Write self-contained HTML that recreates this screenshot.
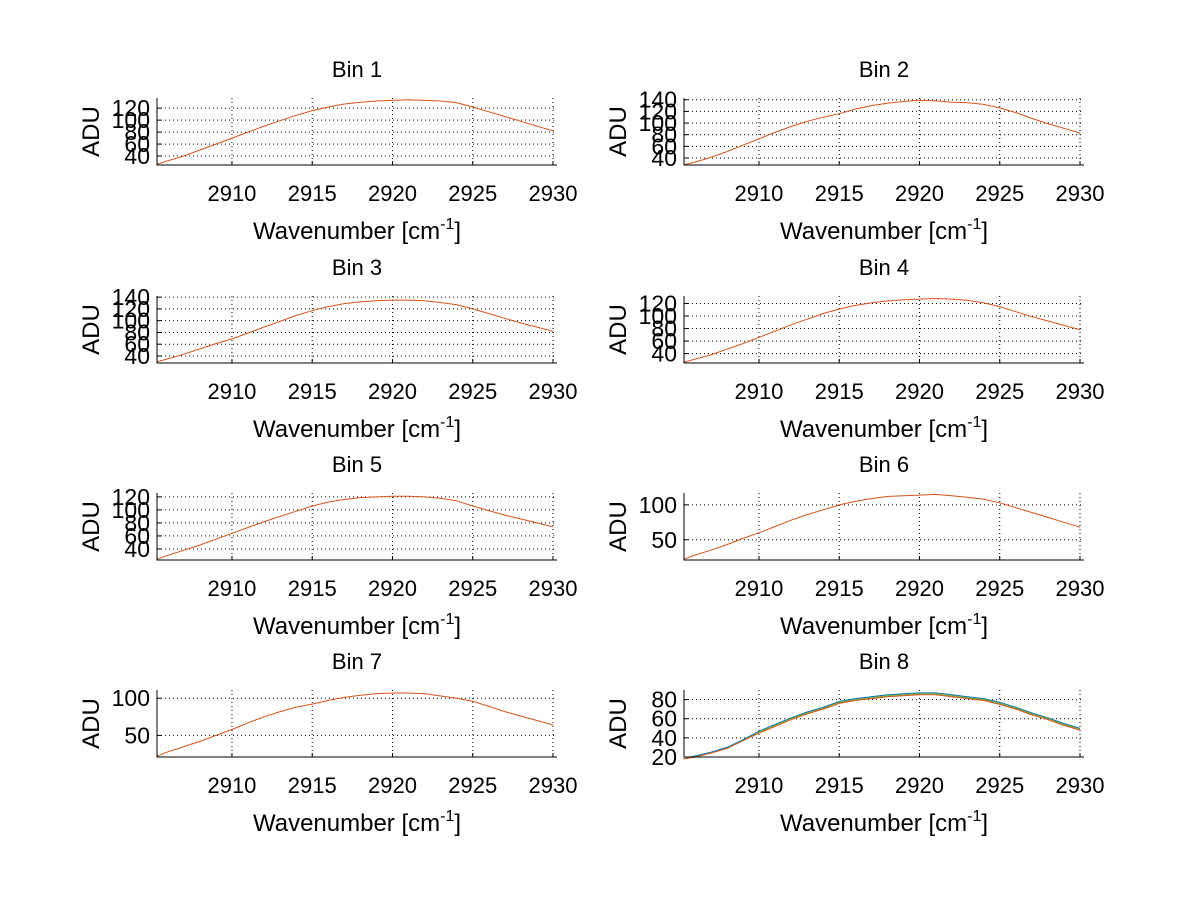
<!DOCTYPE html>
<html><head><meta charset="utf-8">
<style>
html,body{margin:0;padding:0;background:#fff;}
svg{display:block;font-family:"Liberation Sans",sans-serif;}
</style></head>
<body>
<svg id="fig" width="1200" height="901" viewBox="0 0 1200 901" xmlns="http://www.w3.org/2000/svg">
<rect x="0" y="0" width="1200" height="901" fill="#fff"/>
</svg>
<script>
// Shared wavenumber samples
const wavenumbers = [2905.3,2906,2907,2908,2909,2910,2911,2912,2913,2914,2915,2916,2917,2918,2919,2920,2921,2922,2923,2924,2925,2926,2927,2928,2929,2930];
const xTicks = [2910,2915,2920,2925,2930];
const binTitles = ["Bin 1","Bin 2","Bin 3","Bin 4","Bin 5","Bin 6","Bin 7","Bin 8"];
const bin1 = [26,32,40,50,60,70,80,90,99,108,116,122,127,130,132,133,134,133,132,129,122,114,106,98,90,82];
const bin2 = [28,33,41,51,62,73,84,94,103,110,116,124,130,134,137,139,138,136,135,132,126,118,108,99,91,83];
const bin3 = [30,35,43,52,61,69,79,89,99,109,117,124,129,132,134,135,135,134,131,127,120,112,104,96,89,82];
const bin4 = [26,31,38,47,56,66,76,86,95,104,111,117,121,124,126,127,128,127,125,121,115,107,99,92,85,78];
const bin5 = [24,30,38,46,55,64,73,82,90,98,106,112,116,119,120,121,121,120,118,114,106,99,92,86,80,74];
const bin6 = [22,28,35,43,52,60,69,78,86,93,100,105,109,112,113,114,115,113,111,108,103,96,89,82,75,68];
const bin7 = [22,28,35,42,50,58,67,75,82,88,92,97,101,104,106,107,107,106,103,100,96,89,82,76,70,64];
const bin8Blue = [18,21,25,30,38,47,54,61,67,72,78,81,83,85,86,87,87,85,83,81,77,72,66,61,55,50];
const bin8Green = [18,20,24,29,37,46,53,60,66,71,77,80,82,84,85,86,86,84,82,80,76,71,65,60,54,49];
const bin8Orange = [18,20,24,29,37,45,52,59,65,70,76,79,81,83,84,85,85,83,81,79,75,70,64,59,53,48];
const yTicks1 = [40,60,80,100,120];
const yTicks2 = [40,60,80,100,120,140];
const yTicks6 = [50,100];
const yTicks8 = [20,40,60,80];
const yMins = [25,28,28,25,23,21,21,20];
const yMaxs = [137,143,142,132,126,117,111,90];

const binSeries = [[bin1],[bin2],[bin3],[bin4],[bin5],[bin6],[bin7],[bin8Blue,bin8Green,bin8Orange]];
const binYTicks = [yTicks1,yTicks2,yTicks2,yTicks1,yTicks1,yTicks6,yTicks6,yTicks8];

const NS="http://www.w3.org/2000/svg";
const svg=document.getElementById('fig');
function mk(tag,attrs,parent){const e=document.createElementNS(NS,tag);for(const k in attrs)e.setAttribute(k,attrs[k]);(parent||svg).appendChild(e);return e;}

const colLeft=[157,684], axW=400, rowTop=[98,296,493,690], axH=67;
const xMin=2905.33, xMax=2930.25;

for(let b=0;b<8;b++){
  const L=colLeft[b%2], T=rowTop[Math.floor(b/2)], B=T+axH, R=L+axW;
  const yMin=yMins[b], yMax=yMaxs[b];
  const sx=v=>L+(v-xMin)/(xMax-xMin)*axW;
  const sy=v=>B-(v-yMin)/(yMax-yMin)*axH;
  const g=mk('g',{});
  
  
  xTicks.forEach(t=>{const x=sx(t);
    const l=mk('line',{x1:x,y1:T,x2:x,y2:B,stroke:'#000','stroke-width':1,'stroke-dasharray':'1,3'},g);
    
    const tk=mk('line',{x1:x,y1:B,x2:x,y2:B-4,stroke:'#000','stroke-width':1},g);
    
    const tl=mk('text',{x:x,y:B+36,'font-size':22,'text-anchor':'middle'},g);tl.textContent=t;
    
  });
  binYTicks[b].forEach(t=>{const y=sy(t);
    const l=mk('line',{x1:L,y1:y,x2:R,y2:y,stroke:'#000','stroke-width':1,'stroke-dasharray':'1,3'},g);
    
    const tk=mk('line',{x1:L,y1:y,x2:L+4,y2:y,stroke:'#000','stroke-width':1},g);
    
    const tl=mk('text',{x:L-7,y:y+8,'font-size':23,'text-anchor':'end'},g);tl.textContent=t;
    
  });
  const cols = binSeries[b].length>1 ? ['#0072bd','#77ac30','#d95319'] : ['#d95319'];
  binSeries[b].forEach((s,i)=>{
    const d=s.map((v,j)=>(j?'L':'M')+sx(wavenumbers[j]).toFixed(1)+','+sy(v).toFixed(1)).join('');
    const p=mk('path',{d:d,fill:'none',stroke:cols[i],'stroke-width':1},g);
    
  });
  const ax=mk('path',{d:`M${L},${T}L${L},${B}L${R},${B}`,fill:'none',stroke:'#000','stroke-width':1},g);
  
  const ti=mk('text',{x:L+axW/2,y:T-21,'font-size':22,'text-anchor':'middle'},g);ti.textContent=binTitles[b];
  
  const xl=mk('text',{x:L+axW/2,y:B+74,'font-size':24,'text-anchor':'middle'},g);
  
  xl.appendChild(document.createTextNode('Wavenumber [cm'));
  const sup=mk('tspan',{dy:-10,'font-size':16},xl);sup.textContent='-1';
  const cl=mk('tspan',{dy:10},xl);cl.textContent=']';
  const yl=mk('text',{x:0,y:0,'font-size':24,'text-anchor':'middle',transform:`translate(${L-58},${T+axH/2}) rotate(-90)`},g);yl.textContent='ADU';
  
}
</script>
</body></html>
